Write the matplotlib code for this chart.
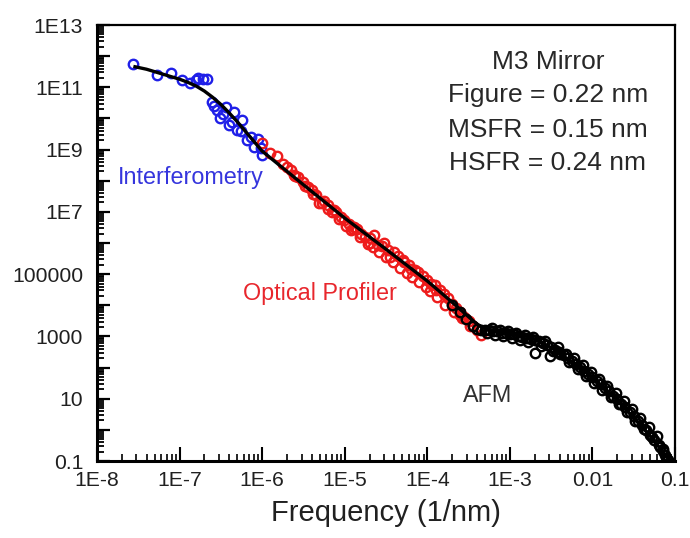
import numpy as np
import matplotlib
matplotlib.use('Agg')
from matplotlib import pyplot as plt
from matplotlib.ticker import FixedLocator, LogLocator, FuncFormatter, NullFormatter

plt.rcParams['font.family'] = ['Liberation Sans', 'DejaVu Sans']

# Values, as log10(frequency) and log10(PSD)
interf_logf = [-7.566, -7.275, -7.10, -6.97, -6.87, -6.80, -6.78, -6.72, -6.67,
               -6.61, -6.545, -6.505, -6.44, -6.40, -6.34, -6.30, -6.24, -6.18,
               -6.14, -6.10, -6.05, -6.00, -6.02, -6.58, -6.48, -6.36, -6.26]
interf_logp = [11.75, 11.39, 11.45, 11.23, 11.13, 11.25, 11.29, 11.27, 11.26,
               10.54, 10.27, 10.00, 10.38, 9.79, 10.22, 9.63, 9.95, 9.31,
               9.41, 9.09, 9.35, 8.83, 9.05, 10.40, 10.15, 9.90, 9.60]

optical_logf = [-6.00, -5.82, -5.70, -5.655, -5.60, -5.57, -5.50, -5.45, -5.40,
                -5.35, -5.31, -5.25, -5.20, -5.20, -5.13, -5.10, -5.05, -5.01,
                -4.95, -4.90, -4.885, -4.85, -4.80, -4.75, -4.70, -4.70, -4.64,
                -4.60, -4.55, -4.52, -4.47, -4.45, -4.40, -4.35, -4.30, -4.28,
                -4.22, -4.20, -4.15, -4.115, -4.05, -4.00, -3.95, -3.91, -3.90,
                -3.85, -3.80, -3.75, -3.70, -3.65, -3.60, -3.60, -3.55, -3.50,
                -3.45, -3.40, -3.35,
                -5.90, -5.75, -5.62, -5.48, -5.38, -5.28, -5.16, -5.07, -4.98,
                -4.92, -4.82, -4.72, -4.66, -4.58, -4.50, -4.42, -4.33, -4.25,
                -4.18, -4.10, -4.02, -3.97, -3.88, -3.78, -3.68, -3.58, -3.48]
optical_logp = [9.22, 8.79, 8.45, 8.34, 8.15, 8.13, 7.95, 7.81, 7.70,
                7.55, 7.27, 7.35, 7.22, 7.08, 7.06, 7.00, 6.82, 6.74,
                6.60, 6.45, 6.52, 6.45, 6.30, 6.20, 6.15, 6.00, 6.26,
                5.95, 5.90, 5.99, 5.78, 5.55, 5.72, 5.58, 5.45, 5.40,
                5.30, 5.15, 5.12, 5.08, 4.95, 4.80, 4.68, 4.65, 4.50,
                4.48, 4.35, 4.22, 4.05, 3.90, 3.78, 3.70, 3.62, 3.48,
                3.33, 3.20, 3.06,
                8.90, 8.55, 8.20, 7.82, 7.56, 7.28, 7.00, 6.78, 6.55,
                6.42, 6.18, 5.98, 5.86, 5.70, 5.55, 5.38, 5.20, 5.05,
                4.92, 4.75, 4.58, 4.45, 4.28, 4.02, 3.80, 3.58, 3.32]

afm_logf = [-3.70, -3.60, -3.53, -3.45, -3.40, -3.35, -3.30, -3.25, -3.20, -3.15,
            -3.10, -3.05, -3.00, -2.95, -2.90, -2.85, -2.80, -2.75, -2.70, -2.70,
            -2.65, -2.60, -2.55, -2.51, -2.50, -2.45, -2.40, -2.39, -2.35, -2.30,
            -2.25, -2.20, -2.15, -2.10, -2.05, -2.00, -1.95, -1.90, -1.85, -1.80,
            -1.75, -1.70, -1.65, -1.60, -1.55, -1.50, -1.45, -1.40, -1.35, -1.30,
            -1.25, -1.20, -1.15, -1.12, -1.10,
            -3.28, -3.18, -3.08, -2.98, -2.88, -2.78, -2.62, -2.48, -2.28, -2.18,
            -2.08, -1.98, -1.88, -1.78, -1.68, -1.58, -1.48, -1.38, -1.28, -1.18,
            -3.22, -3.12, -3.02, -2.92, -2.82, -2.72, -2.58, -2.42, -2.32, -2.22,
            -2.12, -2.02, -1.92, -1.82, -1.72, -1.62, -1.52, -1.42, -1.32, -1.22,
            -1.14, -1.08]
afm_logp = [4.02, 3.78, 3.55, 3.33, 3.25, 3.22, 3.20, 3.21, 3.18, 3.17,
            3.12, 3.10, 3.08, 3.07, 3.02, 2.99, 2.95, 2.92, 2.46, 2.88,
            2.84, 2.78, 2.72, 2.37, 2.66, 2.58, 2.50, 2.45, 2.42, 2.32,
            2.22, 2.12, 2.02, 1.90, 1.80, 1.70, 1.58, 1.46, 1.36, 1.24,
            1.10, 0.98, 0.84, 0.72, 0.58, 0.44, 0.30, 0.15, 0.00, -0.15,
            -0.32, -0.50, -0.68, -0.80, -0.92,
            3.10, 3.06, 3.02, 2.96, 2.90, 2.82, 2.70, 2.52, 2.18, 1.96,
            1.72, 1.50, 1.28, 1.05, 0.82, 0.56, 0.30, 0.04, -0.24, -0.55,
            3.26, 3.22, 3.16, 3.10, 3.04, 2.98, 2.86, 2.66, 2.44, 2.30,
            2.08, 1.86, 1.62, 1.40, 1.18, 0.92, 0.66, 0.38, 0.10, -0.20,
            -0.62, -0.98]

fit_logf = [-7.54, -7.4, -7.2, -7.0, -6.9, -6.8, -6.7, -6.6, -6.5, -6.4, -6.3,
            -6.0, -5.5, -5.0, -4.5, -4.0, -3.7, -3.5, -3.4, -3.3, -3.15, -3.0,
            -2.85, -2.7, -2.5, -2.3, -2.0, -1.7, -1.5, -1.3, -1.1, -1.03]
fit_logp = [11.66, 11.58, 11.42, 11.26, 11.16, 11.04, 10.88, 10.68, 10.45, 10.18, 9.89,
            8.95, 7.87, 6.80, 5.80, 4.78, 4.10, 3.63, 3.40, 3.25, 3.17, 3.12,
            3.04, 2.92, 2.64, 2.28, 1.68, 0.95, 0.38, -0.20, -0.87, -1.05]

x_tick_labels = ['1E-8', '1E-7', '1E-6', '1E-5', '1E-4', '1E-3', '0.01', '0.1']
y_tick_labels = {13: '1E13', 11: '1E11', 9: '1E9', 7: '1E7', 5: '100000',
                 3: '1000', 1: '10', -1: '0.1'}

BLUE = '#1f1fe8'
RED = '#ee1c1c'


def unlog(v):
    return 10.0 ** np.asarray(v)


fig = plt.figure(figsize=(6.9, 5.38), dpi=100)
ax = fig.add_axes([0.1406, 0.1431, 0.8377, 0.8104])

marker_style = dict(linestyle='none', marker='o', markersize=6.8,
                    markerfacecolor='none', markeredgewidth=1.7)
ax.plot(unlog(interf_logf), unlog(interf_logp), color=BLUE, **marker_style)
ax.plot(unlog(optical_logf), unlog(optical_logp), color=RED, **marker_style)
ax.plot(unlog(afm_logf), unlog(afm_logp), color='black', **marker_style)
ax.plot(unlog(fit_logf), unlog(fit_logp), color='black', linewidth=2.4)

ax.set_xscale('log')
ax.set_yscale('log')
ax.set_xlim(1e-8, 0.1)
ax.set_ylim(0.1, 1e13)

ax.xaxis.set_major_locator(FixedLocator(unlog(np.arange(-8, 0))))
ax.xaxis.set_major_formatter(FuncFormatter(
    lambda v, pos: x_tick_labels[int(round(np.log10(v))) + 8]))
ax.xaxis.set_minor_locator(LogLocator(base=10, subs=np.arange(2, 10), numticks=100))
ax.xaxis.set_minor_formatter(NullFormatter())

ax.yaxis.set_major_locator(FixedLocator(unlog(np.arange(-1, 14))))
ax.yaxis.set_major_formatter(FuncFormatter(
    lambda v, pos: y_tick_labels.get(int(round(np.log10(v))), '')))
ax.yaxis.set_minor_locator(LogLocator(base=10, subs=np.arange(2, 10), numticks=100))
ax.yaxis.set_minor_formatter(NullFormatter())

ax.tick_params(which='both', direction='in', top=False, right=False,
               colors='black', labelcolor='#202020', labelsize=15.2)
ax.tick_params(axis='x', which='major', length=10, width=1.5, pad=7)
ax.tick_params(axis='x', which='minor', length=5, width=1.2)
ax.tick_params(axis='y', which='major', length=9, width=1.6, pad=10)
ax.tick_params(axis='y', which='minor', length=5, width=1.3)

for side in ['left', 'bottom']:
    ax.spines[side].set_linewidth(2.2)
for side in ['top', 'right']:
    ax.spines[side].set_linewidth(1.6)

ax.set_xlabel('Frequency (1/nm)', fontsize=21, color='#202020', labelpad=7)

ax.text(0.036, 0.651, 'Interferometry', transform=ax.transAxes, color='#3535dd',
        fontsize=16.8, ha='left', va='center')
ax.text(0.2526, 0.385, 'Optical Profiler', transform=ax.transAxes, color='#e8262c',
        fontsize=16.8, ha='left', va='center')
ax.text(0.6765, 0.151, 'AFM', transform=ax.transAxes, color='#303030',
        fontsize=16.8, ha='center', va='center')

notes = ['M3 Mirror', 'Figure = 0.22 nm', 'MSFR = 0.15 nm', 'HSFR = 0.24 nm']
note_y = [0.915, 0.839, 0.759, 0.683]
for txt, yy in zip(notes, note_y):
    ax.text(0.780, yy, txt, transform=ax.transAxes, color='#282828',
            fontsize=19, ha='center', va='center')

fig.savefig('out.png', dpi=100)
